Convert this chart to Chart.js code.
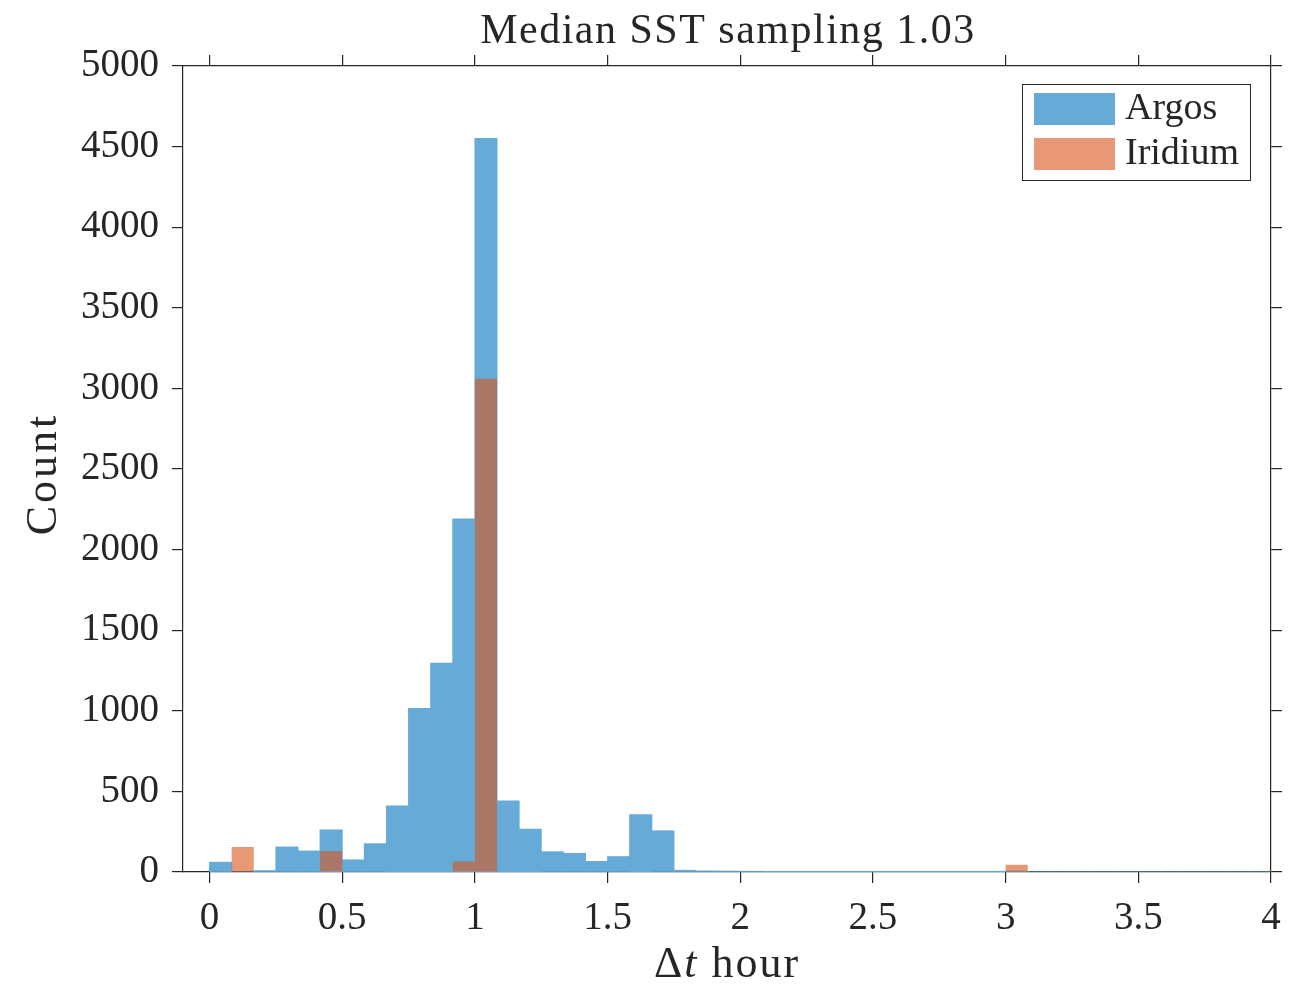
<!DOCTYPE html>
<html>
<head>
<meta charset="utf-8">
<script src="https://cdn.jsdelivr.net/npm/chart.js@4/dist/chart.umd.min.js"></script>
<style>
  html, body { margin: 0; padding: 0; background: #fff; }
  #wrap { width: 1301px; height: 984px; position: relative; }
</style>
</head>
<body>
<div id="wrap"><canvas id="graphique"></canvas></div>
<script>
// histogram bins of 5 minutes (1/12 hour) starting at 0
const binWidth = 1 / 12
const argosCounts = [
    60, 0, 8, 155, 130, 260, 75, 175, 410, 1015, 1295, 2190,
    4550, 440, 265, 125, 115, 65, 95, 355, 255, 10, 6, 5,
    4, 3, 3, 2, 2, 2, 2, 1, 1, 1, 1, 1, 5, 0, 0, 0,
    0, 0, 0, 0, 0, 0, 0, 0
]
const iridiumCounts = [
    0, 155, 0, 0, 0, 130, 0, 0, 0, 0, 0, 65,
    3060, 0, 0, 0, 0, 0, 0, 0, 0, 0, 0, 0,
    0, 0, 0, 0, 0, 0, 0, 0, 0, 0, 0, 0, 45, 0, 0, 0,
    0, 0, 0, 0, 0, 0, 0, 0
]
const xTicks = [0, 0.5, 1, 1.5, 2, 2.5, 3, 3.5, 4]
const titleText = 'Median SST sampling 1.03'
const yTitle = 'Count'
const seriesNames = ['Argos', 'Iridium']

const axisColor = '#262626'
const serif = '"Liberation Serif", "DejaVu Serif", serif'
// argos = matlab blue at 0.6 alpha on white, iridium stays transparent so the overlap turns brown
const argosColor = 'rgb(102, 170, 215)'
const iridiumColor = 'rgba(217, 83, 25, 0.6)'

const toPoints = (counts) => counts.map((c, i) => ({ x: (i + 0.5) * binWidth, y: c }))

const setTicks = (scale) => { scale.ticks = xTicks.map(v => ({ value: v })) }

const decorations = {
    id: 'decorations',
    afterDraw(chart) {
        const ctx = chart.ctx
        const area = chart.chartArea
        const cx = (area.left + area.right) / 2
        ctx.save()
        ctx.fillStyle = axisColor
        ctx.textAlign = 'center'
        ctx.textBaseline = 'alphabetic'
        ctx.letterSpacing = '1.5px'
        ctx.font = `42px ${serif}`
        ctx.fillText(titleText, cx + 1, 43)

        // y axis title
        ctx.save()
        ctx.font = `44px ${serif}`
        ctx.letterSpacing = '3px'
        ctx.translate(56, (area.top + area.bottom) / 2 + 5)
        ctx.rotate(-Math.PI / 2)
        ctx.fillText(yTitle, 0, 0)
        ctx.restore()

        // x axis label with italic t
        const parts = [['Δ', ''], ['t', 'italic '], [' hour', '']]
        ctx.letterSpacing = '2px'
        const widths = parts.map(([s, st]) => {
            ctx.font = `${st}44px ${serif}`
            return ctx.measureText(s).width
        })
        let x = cx - widths.reduce((a, b) => a + b, 0) / 2
        ctx.textAlign = 'left'
        parts.forEach(([s, st], i) => {
            ctx.font = `${st}44px ${serif}`
            ctx.fillText(s, x, 977)
            x += widths[i]
        })

        // legend
        ctx.letterSpacing = '0px'
        const lw = 228, lh = 96
        const lx = area.right - 21 - lw
        const ly = area.top + 18
        ctx.fillStyle = '#fff'
        ctx.fillRect(lx, ly, lw, lh)
        ctx.strokeStyle = axisColor
        ctx.lineWidth = 1
        ctx.strokeRect(lx + 0.5, ly + 0.5, lw, lh)
        const colors = [argosColor, iridiumColor]
        ctx.font = `38px ${serif}`
        ctx.textBaseline = 'middle'
        seriesNames.forEach((name, i) => {
            const py = ly + 9 + i * 45
            ctx.fillStyle = colors[i]
            ctx.fillRect(lx + 12, py, 81, 32)
            ctx.fillStyle = axisColor
            ctx.fillText(name, lx + 103, py + 16)
        })
        ctx.restore()
    }
}

const gridOpts = {
    display: true,
    drawOnChartArea: false,
    drawTicks: true,
    offset: false,
    tickLength: 11,
    color: axisColor,
    lineWidth: 1.2
}
const borderOpts = { display: true, color: axisColor, width: 1.2 }
const tickFont = { family: serif, size: 39 }

const config = {
    type: 'bar',
    data: {
        datasets: [{
            label: seriesNames[0],
            data: toPoints(argosCounts),
            backgroundColor: argosColor,
            borderWidth: 0,
            inflateAmount: 0.5,
            order: 2
        }, {
            label: seriesNames[1],
            data: toPoints(iridiumCounts),
            backgroundColor: iridiumColor,
            borderWidth: 0,
            inflateAmount: 0,
            order: 1
        }]
    },
    options: {
        responsive: true,
        maintainAspectRatio: false,
        animation: false,
        layout: { padding: 0 },
        datasets: { bar: { grouped: false, barPercentage: 1, categoryPercentage: 1 } },
        plugins: { legend: { display: false }, tooltip: { enabled: false } },
        scales: {
            x: {
                type: 'linear', position: 'bottom', min: -0.1, max: 4, offset: false,
                afterBuildTicks: setTicks,
                afterFit: (s) => { s.height = 112 },
                grid: gridOpts, border: borderOpts,
                ticks: { color: axisColor, font: tickFont, padding: 12, maxRotation: 0, callback: (v) => String(v) }
            },
            x2: {
                type: 'linear', position: 'top', min: -0.1, max: 4, offset: false,
                afterBuildTicks: setTicks,
                afterFit: (s) => { s.height = 66 },
                grid: gridOpts, border: borderOpts,
                ticks: { display: false }
            },
            y: {
                type: 'linear', position: 'left', min: 0, max: 5000,
                afterFit: (s) => { s.width = 183 },
                grid: gridOpts, border: borderOpts,
                ticks: { stepSize: 500, color: axisColor, font: tickFont, padding: 13, callback: (v) => String(v) }
            },
            y2: {
                type: 'linear', position: 'right', min: 0, max: 5000,
                afterFit: (s) => { s.width = 30 },
                grid: gridOpts, border: borderOpts,
                ticks: { display: false, stepSize: 500 }
            }
        }
    },
    plugins: [decorations]
}

new Chart(document.getElementById('graphique'), config)
</script>
</body>
</html>
